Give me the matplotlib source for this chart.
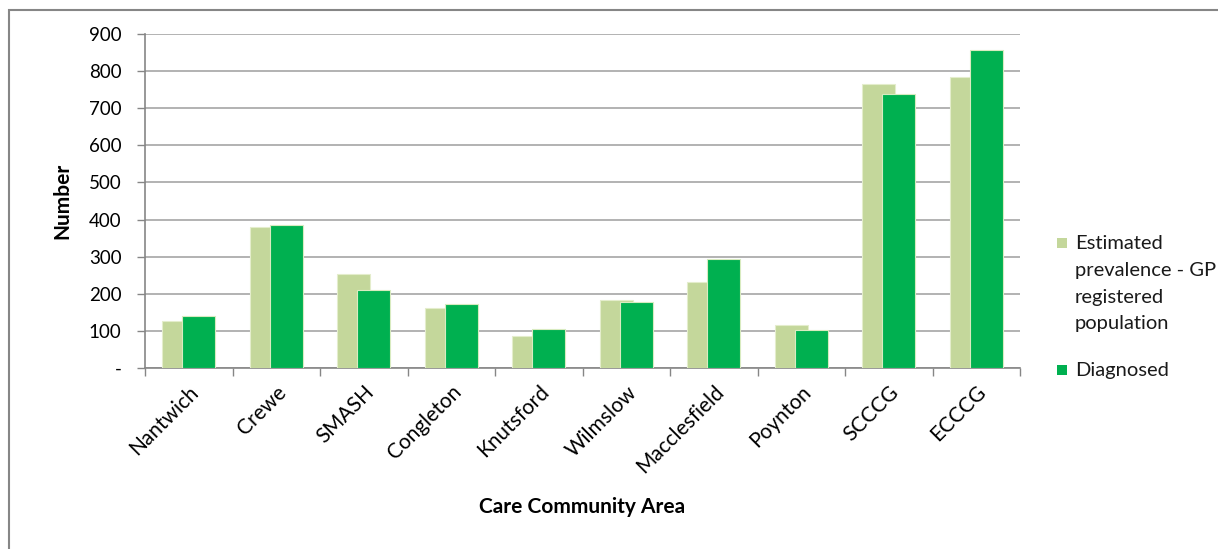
import numpy as np
import matplotlib
matplotlib.use("Agg")
import matplotlib.pyplot as plt
from matplotlib.patches import Rectangle

plt.rcParams['font.family'] = ['Lato', 'DejaVu Sans']

# ---------------------- data ----------------------
areas = ["Nantwich", "Crewe", "SMASH", "Congleton", "Knutsford",
         "Wilmslow", "Macclesfield", "Poynton", "SCCCG", "ECCCG"]
estimated = [127, 379, 253, 161, 87, 182, 233, 115, 764, 783]
diagnosed = [140, 384, 209, 172, 105, 177, 295, 102, 737, 857]
y_ticks = [0, 100, 200, 300, 400, 500, 600, 700, 800, 900]
y_tick_labels = ["-", "100", "200", "300", "400", "500", "600", "700", "800", "900"]
series_names = ["Estimated\nprevalence - GP\nregistered\npopulation", "Diagnosed"]

light = "#C4D79B"
dark = "#00B050"
grid_col = "#A6A6A6"

fig = plt.figure(figsize=(12.18, 5.49), dpi=100)
ax = fig.add_axes([145 / 1218, 1 - 368 / 549, 875 / 1218, 334 / 549])

x = np.arange(len(areas))
w = 0.38
ax.bar(x - 0.115, estimated, width=w, color=light, edgecolor="#E4EDCC",
       linewidth=0.8, zorder=3)
ax.bar(x + 0.115, diagnosed, width=w, color=dark, edgecolor="#D8EBC0",
       linewidth=0.8, zorder=4)

ax.set_xlim(-0.5, len(areas) - 0.5)
ax.set_ylim(0, 900)
ax.set_yticks(y_ticks)
ax.set_yticklabels(y_tick_labels)
ax.yaxis.grid(True, color=grid_col, linewidth=1.2, zorder=0)
ax.set_axisbelow(True)

# category ticks on boundaries, labels at centres
ax.set_xticks(np.arange(-0.5, len(areas)), minor=False)
ax.set_xticklabels([])
ax.set_xticks(x, minor=True)
ax.set_xticklabels(areas, minor=True, rotation=45, ha="right",
                   rotation_mode="anchor", fontsize=15)
ax.tick_params(axis="x", which="minor", length=0, pad=10)
ax.tick_params(axis="x", which="major", length=6, color="#868686", width=1)
ax.tick_params(axis="y", length=6, color="#868686", width=1, labelsize=13.5, pad=11)

for s in ["top", "right"]:
    ax.spines[s].set_visible(False)
for s in ["left", "bottom"]:
    ax.spines[s].set_color("#868686")
    ax.spines[s].set_linewidth(1.2)

ax.set_ylabel("Number", fontsize=15, fontweight="bold")
ax.yaxis.set_label_coords(-0.083, 0.5)
ax.set_xlabel("Care Community Area", fontsize=15, fontweight="bold")
ax.xaxis.set_label_coords(0.5, -0.386)

# legend (square marker aligned with first text line, as in Excel)
leg_items = [(series_names[0], light, 235), (series_names[1], dark, 362)]
for name, col, ytop in leg_items:
    fig.patches.append(Rectangle((1057 / 1218, 1 - (ytop + 13) / 549),
                                 10 / 1218, 10 / 549, transform=fig.transFigure,
                                 facecolor=col, edgecolor="none"))
    fig.text(1075 / 1218, 1 - ytop / 549, name, ha="left", va="top",
             fontsize=14.5, linespacing=1.7, color="#1a1a1a")

# outer chart frame
fig.patches.append(Rectangle((9 / 1218, -0.1), 1.2, 1 - 10 / 549 + 0.1,
                             transform=fig.transFigure, fill=False,
                             edgecolor="#868686", linewidth=1.5))

fig.savefig("out.png", dpi=100)
